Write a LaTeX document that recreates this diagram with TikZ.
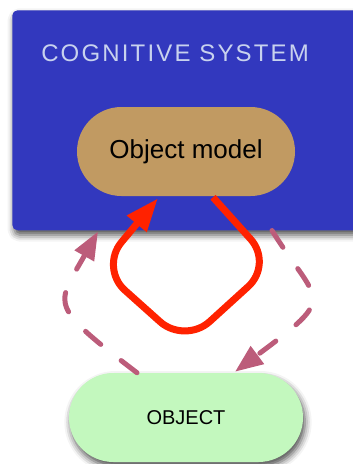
\documentclass[tikz,border=0pt]{standalone}
\usepackage{fontspec}
\setmainfont{Liberation Sans}
\newfontfamily\widefont[LetterSpace=9]{Liberation Sans}
\usetikzlibrary{shapes.misc,arrows.meta,shadows.blur,calc}
\definecolor{sysblue}{HTML}{3238BE}
\definecolor{modelbrown}{HTML}{C19A62}
\definecolor{objgreen}{HTML}{C3F8BE}
\definecolor{loopred}{HTML}{FF2200}
\definecolor{linkpink}{HTML}{BC5C7A}
\definecolor{titlegrey}{HTML}{C8D2EE}
\begin{document}
\begin{tikzpicture}[x=0.75pt,y=-0.75pt,
    pill/.style={rounded rectangle, minimum height=66.75pt, inner sep=0pt},
    softshadow/.style={blur shadow={shadow xshift=1.5pt, shadow yshift=-3.5pt, shadow blur radius=5pt, shadow opacity=70}},
    redloop/.style={draw=loopred, line width=5.25pt, rounded corners=25pt, -{Triangle[length=25pt,width=18pt]}},
    feedback/.style={draw=linkpink, line width=3.75pt, line cap=round, dash pattern=on 15pt off 19.5pt, -{Triangle[length=21pt,width=16pt]}}]
  \useasboundingbox (0,0) rectangle (353,464);
  \node (system) [anchor=north west, fill=sysblue, rounded corners=4pt, minimum width=261pt, minimum height=165pt, softshadow] at (12,10) {};
  \node (title) [anchor=base west, text=titlegrey, font=\widefont\fontsize{18pt}{20pt}\selectfont, inner sep=0pt] at (41,61) {COGNITIVE SYSTEM};
  \node (model) [pill, fill=modelbrown, minimum width=163.5pt, font=\fontsize{19.5pt}{22pt}\selectfont] at (186,151.5) {Object model};
  \node (object) [pill, fill=objgreen, minimum width=175.5pt, font=\fontsize{15pt}{18pt}\selectfont, softshadow] at (186,417.5) {OBJECT};

  \draw[redloop] ($(model.south)+(27,1)$) -- (273,264) -- (185,344) -- (100,268) -- ($(model.south)+(-28,2)$);
  \draw[feedback] ($(object.north)+(-49,0)$) .. controls (47,304) and (56,306) .. ($(system.south west)+(86,1)$);
  \draw[feedback] ($(system.south west)+(260,0)$) .. controls (319,306) and (339,294) .. ($(object.north)+(49,-1)$);
\end{tikzpicture}
\end{document}
